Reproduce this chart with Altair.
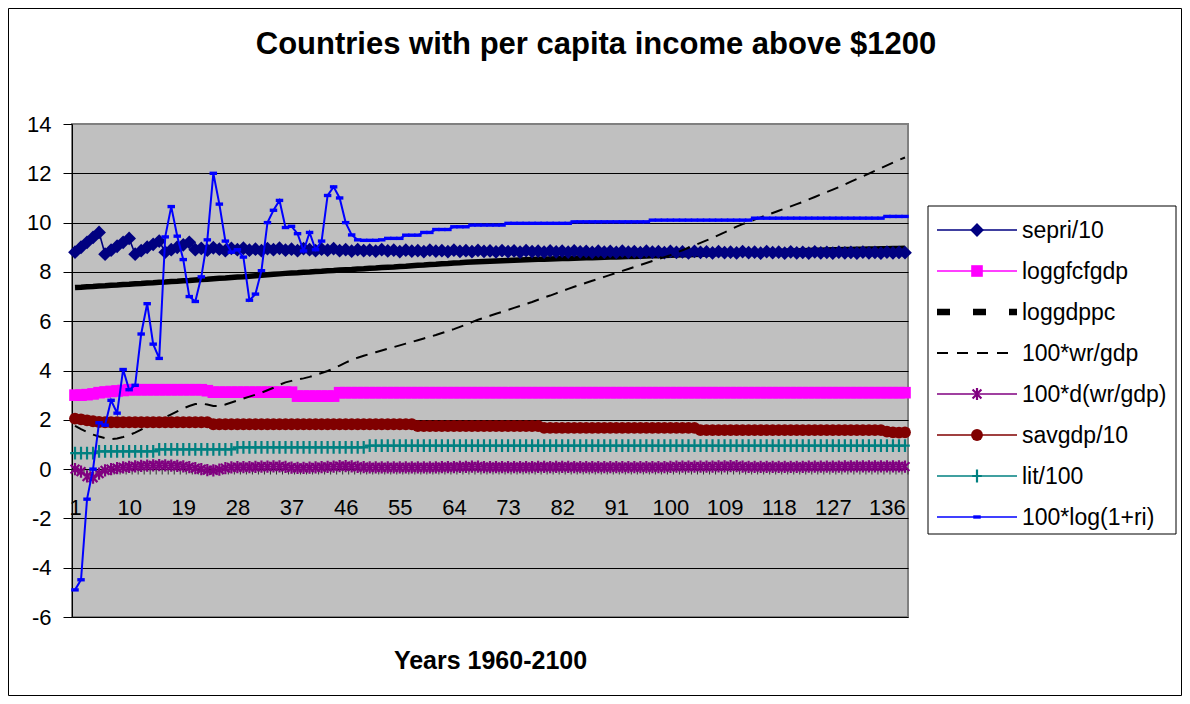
import altair as alt
import pandas as pd

FONT = "Liberation Sans"

# ---------------- data ----------------
series_names = ["sepri/10", "loggfcfgdp", "loggdppc", "100*wr/gdp",
                "100*d(wr/gdp)", "savgdp/10", "lit/100", "100*log(1+ri)"]
years = list(range(1, 140))
x_tick_labels = [1, 10, 19, 28, 37, 46, 55, 64, 73, 82, 91, 100, 109, 118, 127, 136]
y_ticks = [-6, -4, -2, 0, 2, 4, 6, 8, 10, 12, 14]

sepri = [
    8.80, 9.00, 9.20, 9.40, 9.60, 8.72, 8.88, 9.04, 9.20, 9.36,
    8.72, 8.86, 9.00, 9.12, 9.25, 8.80, 8.90, 9.00, 9.10, 9.20,
    8.90, 8.95, 8.88, 8.98, 8.92, 8.86, 8.95, 8.90, 8.96, 8.88,
    8.92, 8.86, 8.94, 8.90, 8.96, 8.88, 8.92, 8.86, 8.94, 8.90,
    8.86, 8.92, 8.88, 8.94, 8.86, 8.90, 8.84, 8.90, 8.86, 8.88,
    8.84, 8.90, 8.85, 8.88, 8.82, 8.88, 8.84, 8.86, 8.82, 8.88,
    8.84, 8.86, 8.82, 8.88, 8.83, 8.86, 8.82, 8.87, 8.83, 8.85,
    8.81, 8.86, 8.82, 8.85, 8.80, 8.86, 8.82, 8.84, 8.80, 8.85,
    8.81, 8.84, 8.80, 8.85, 8.81, 8.83, 8.79, 8.84, 8.80, 8.83,
    8.79, 8.84, 8.80, 8.82, 8.78, 8.84, 8.80, 8.82, 8.78, 8.83,
    8.79, 8.81, 8.77, 8.83, 8.79, 8.81, 8.77, 8.82, 8.78, 8.80,
    8.77, 8.82, 8.78, 8.80, 8.76, 8.82, 8.78, 8.80, 8.76, 8.81,
    8.77, 8.79, 8.76, 8.81, 8.77, 8.79, 8.76, 8.80, 8.77, 8.79,
    8.76, 8.80, 8.77, 8.79, 8.76, 8.80, 8.77, 8.79, 8.78,
]

loggfcfgdp = [
    3.00, 3.00, 3.02, 3.05, 3.10, 3.13, 3.15, 3.17, 3.19, 3.22,
    3.22, 3.22, 3.22, 3.22, 3.22, 3.22, 3.22, 3.22, 3.22, 3.22,
    3.22, 3.22, 3.18, 3.12, 3.12, 3.12, 3.12, 3.12, 3.12, 3.12,
    3.12, 3.12, 3.12, 3.12, 3.12, 3.12, 3.12, 2.96, 2.96, 2.96,
    2.96, 2.96, 2.96, 2.96, 3.10, 3.10, 3.10, 3.10, 3.10, 3.10,
    3.10, 3.10, 3.10, 3.10, 3.10, 3.10, 3.10, 3.10, 3.10, 3.10,
    3.10, 3.10, 3.10, 3.10, 3.10, 3.10, 3.10, 3.10, 3.10, 3.10,
    3.10, 3.10, 3.10, 3.10, 3.10, 3.10, 3.10, 3.10, 3.10, 3.10,
    3.10, 3.10, 3.10, 3.10, 3.10, 3.10, 3.10, 3.10, 3.10, 3.10,
    3.10, 3.10, 3.10, 3.10, 3.10, 3.10, 3.10, 3.10, 3.10, 3.10,
    3.10, 3.10, 3.10, 3.10, 3.10, 3.10, 3.10, 3.10, 3.10, 3.10,
    3.10, 3.10, 3.10, 3.10, 3.10, 3.10, 3.10, 3.10, 3.10, 3.10,
    3.10, 3.10, 3.10, 3.10, 3.10, 3.10, 3.10, 3.10, 3.10, 3.10,
    3.10, 3.10, 3.10, 3.10, 3.10, 3.10, 3.10, 3.10, 3.10,
]

loggdppc = [
    7.37, 7.38, 7.40, 7.41, 7.43, 7.44, 7.46, 7.47, 7.49, 7.50,
    7.52, 7.53, 7.55, 7.56, 7.58, 7.59, 7.61, 7.62, 7.64, 7.65,
    7.67, 7.69, 7.70, 7.72, 7.74, 7.75, 7.77, 7.79, 7.80, 7.82,
    7.84, 7.86, 7.88, 7.90, 7.92, 7.94, 7.96, 7.97, 7.99, 8.00,
    8.02, 8.03, 8.05, 8.06, 8.08, 8.09, 8.10, 8.12, 8.13, 8.15,
    8.16, 8.18, 8.19, 8.20, 8.22, 8.23, 8.25, 8.27, 8.28, 8.30,
    8.31, 8.33, 8.34, 8.36, 8.37, 8.39, 8.40, 8.41, 8.42, 8.43,
    8.44, 8.45, 8.46, 8.47, 8.48, 8.49, 8.50, 8.51, 8.51, 8.52,
    8.53, 8.54, 8.54, 8.55, 8.56, 8.57, 8.57, 8.58, 8.59, 8.60,
    8.60, 8.61, 8.62, 8.62, 8.63, 8.64, 8.65, 8.66, 8.67, 8.68,
    8.69, 8.70, 8.70, 8.71, 8.72, 8.73, 8.74, 8.75, 8.76, 8.77,
    8.77, 8.78, 8.79, 8.80, 8.80, 8.81, 8.82, 8.83, 8.84, 8.85,
    8.85, 8.86, 8.87, 8.88, 8.88, 8.89, 8.90, 8.90, 8.91, 8.91,
    8.92, 8.92, 8.93, 8.93, 8.94, 8.94, 8.95, 8.95, 8.96,
]

wr_gdp = [
    1.75, 1.62, 1.50, 1.40, 1.32, 1.26, 1.22, 1.24, 1.30, 1.38,
    1.48, 1.60, 1.74, 1.86, 1.98, 2.10, 2.22, 2.34, 2.46, 2.56,
    2.64, 2.66, 2.62, 2.56, 2.56, 2.62, 2.70, 2.78, 2.86, 2.94,
    3.02, 3.10, 3.20, 3.30, 3.42, 3.52, 3.58, 3.63, 3.68, 3.74,
    3.82, 3.90, 3.98, 4.08, 4.20, 4.32, 4.43, 4.52, 4.60, 4.67,
    4.74, 4.81, 4.88, 4.95, 5.02, 5.09, 5.16, 5.23, 5.30, 5.37,
    5.44, 5.52, 5.60, 5.68, 5.77, 5.86, 5.96, 6.06, 6.14, 6.22,
    6.30, 6.38, 6.46, 6.54, 6.62, 6.70, 6.78, 6.87, 6.96, 7.04,
    7.13, 7.22, 7.31, 7.40, 7.48, 7.56, 7.64, 7.72, 7.80, 7.88,
    7.96, 8.04, 8.12, 8.20, 8.28, 8.36, 8.44, 8.52, 8.60, 8.68,
    8.78, 8.88, 8.98, 9.08, 9.18, 9.28, 9.38, 9.49, 9.60, 9.72,
    9.84, 9.94, 10.03, 10.12, 10.21, 10.30, 10.39, 10.48, 10.57, 10.66,
    10.75, 10.84, 10.94, 11.04, 11.14, 11.24, 11.34, 11.44, 11.55, 11.66,
    11.77, 11.88, 11.99, 12.10, 12.21, 12.32, 12.43, 12.54, 12.64,
]

d_wr_gdp = [
    0.00, -0.10, -0.30, -0.35, -0.18, -0.05, 0.00, 0.04, 0.07, 0.09,
    0.11, 0.13, 0.14, 0.15, 0.16, 0.15, 0.14, 0.13, 0.11, 0.08,
    0.04, 0.00, -0.04, -0.05, -0.02, 0.04, 0.07, 0.08, 0.08, 0.08,
    0.09, 0.10, 0.10, 0.11, 0.11, 0.09, 0.06, 0.05, 0.05, 0.06,
    0.07, 0.08, 0.09, 0.10, 0.12, 0.12, 0.11, 0.09, 0.08, 0.07,
    0.07, 0.07, 0.07, 0.07, 0.07, 0.07, 0.07, 0.07, 0.07, 0.07,
    0.07, 0.08, 0.08, 0.08, 0.09, 0.09, 0.10, 0.10, 0.08, 0.08,
    0.08, 0.08, 0.08, 0.08, 0.08, 0.08, 0.08, 0.09, 0.09, 0.08,
    0.09, 0.09, 0.09, 0.08, 0.08, 0.08, 0.08, 0.08, 0.08, 0.08,
    0.08, 0.08, 0.08, 0.08, 0.08, 0.08, 0.08, 0.08, 0.08, 0.09,
    0.10, 0.10, 0.10, 0.10, 0.10, 0.10, 0.10, 0.11, 0.11, 0.12,
    0.12, 0.10, 0.09, 0.09, 0.09, 0.09, 0.09, 0.09, 0.09, 0.09,
    0.09, 0.09, 0.10, 0.10, 0.10, 0.10, 0.10, 0.10, 0.11, 0.11,
    0.11, 0.11, 0.11, 0.11, 0.11, 0.11, 0.11, 0.11, 0.10,
]

savgdp = [
    2.05, 2.02, 1.98, 1.94, 1.91, 1.90, 1.90, 1.90, 1.90, 1.90,
    1.90, 1.90, 1.90, 1.90, 1.90, 1.90, 1.90, 1.90, 1.90, 1.90,
    1.90, 1.90, 1.90, 1.82, 1.82, 1.82, 1.82, 1.82, 1.82, 1.82,
    1.82, 1.82, 1.82, 1.82, 1.82, 1.82, 1.82, 1.82, 1.82, 1.82,
    1.82, 1.82, 1.82, 1.82, 1.82, 1.82, 1.82, 1.82, 1.82, 1.82,
    1.82, 1.82, 1.82, 1.82, 1.82, 1.82, 1.82, 1.75, 1.75, 1.75,
    1.75, 1.75, 1.75, 1.75, 1.75, 1.75, 1.75, 1.75, 1.75, 1.75,
    1.75, 1.75, 1.75, 1.75, 1.75, 1.75, 1.75, 1.75, 1.67, 1.67,
    1.67, 1.67, 1.67, 1.67, 1.67, 1.67, 1.67, 1.67, 1.67, 1.67,
    1.67, 1.67, 1.67, 1.67, 1.67, 1.67, 1.67, 1.67, 1.67, 1.67,
    1.67, 1.67, 1.67, 1.67, 1.58, 1.58, 1.58, 1.58, 1.58, 1.58,
    1.58, 1.58, 1.58, 1.58, 1.58, 1.58, 1.58, 1.58, 1.58, 1.58,
    1.58, 1.58, 1.58, 1.58, 1.58, 1.58, 1.58, 1.58, 1.58, 1.58,
    1.58, 1.58, 1.58, 1.58, 1.58, 1.52, 1.49, 1.48, 1.49,
]

lit = [
    0.65, 0.65, 0.65, 0.65, 0.72, 0.72, 0.72, 0.72, 0.72, 0.72,
    0.72, 0.72, 0.72, 0.72, 0.80, 0.80, 0.80, 0.80, 0.80, 0.80,
    0.80, 0.80, 0.80, 0.80, 0.80, 0.80, 0.80, 0.88, 0.88, 0.88,
    0.88, 0.88, 0.88, 0.88, 0.88, 0.88, 0.88, 0.88, 0.88, 0.88,
    0.88, 0.88, 0.88, 0.88, 0.88, 0.88, 0.88, 0.88, 0.88, 0.95,
    0.95, 0.95, 0.95, 0.95, 0.95, 0.95, 0.95, 0.95, 0.95, 0.95,
    0.95, 0.95, 0.95, 0.95, 0.95, 0.95, 0.95, 0.95, 0.95, 0.95,
    0.95, 0.95, 0.95, 0.95, 0.95, 0.95, 0.95, 0.95, 0.95, 0.95,
    0.95, 0.95, 0.95, 0.95, 0.95, 0.95, 0.95, 0.95, 0.95, 0.95,
    0.95, 0.95, 0.95, 0.95, 0.95, 0.95, 0.95, 0.95, 0.95, 0.95,
    0.95, 0.95, 0.95, 0.95, 0.95, 0.95, 0.95, 0.95, 0.95, 0.95,
    0.95, 0.95, 0.95, 0.95, 0.95, 0.95, 0.95, 0.95, 0.95, 0.95,
    0.95, 0.95, 0.95, 0.95, 0.95, 0.95, 0.95, 0.95, 0.95, 0.95,
    0.95, 0.95, 0.95, 0.95, 0.95, 0.95, 0.95, 0.95, 0.95,
]

log_ri = [
    -4.90, -4.49, -1.22, 0.00, 1.88, 1.78, 2.79, 2.27, 4.04, 3.22,
    3.40, 5.48, 6.71, 5.07, 4.49, 9.42, 10.65, 9.45, 8.50, 7.00,
    6.80, 7.80, 9.30, 12.00, 10.75, 9.25, 8.80, 8.90, 8.60, 6.85,
    7.10, 8.05, 10.00, 10.50, 10.90, 9.80, 9.85, 9.55, 8.85, 9.60,
    8.90, 9.25, 11.10, 11.45, 11.00, 10.00, 9.50, 9.30, 9.28, 9.28,
    9.28, 9.30, 9.36, 9.36, 9.36, 9.49, 9.49, 9.49, 9.60, 9.60,
    9.72, 9.72, 9.72, 9.83, 9.83, 9.83, 9.90, 9.90, 9.90, 9.90,
    9.90, 9.90, 9.97, 9.97, 9.97, 9.97, 9.97, 9.97, 9.97, 9.97,
    9.97, 9.97, 9.97, 10.03, 10.03, 10.03, 10.03, 10.03, 10.03, 10.03,
    10.03, 10.03, 10.03, 10.03, 10.03, 10.03, 10.10, 10.10, 10.10, 10.10,
    10.10, 10.10, 10.10, 10.10, 10.10, 10.10, 10.10, 10.10, 10.10, 10.10,
    10.10, 10.10, 10.10, 10.18, 10.18, 10.18, 10.18, 10.18, 10.18, 10.18,
    10.18, 10.18, 10.18, 10.18, 10.18, 10.18, 10.18, 10.18, 10.18, 10.18,
    10.18, 10.18, 10.18, 10.18, 10.18, 10.25, 10.25, 10.25, 10.25,
]

series_values = [sepri, loggfcfgdp, loggdppc, wr_gdp, d_wr_gdp, savgdp, lit, log_ri]
chart_title = "Countries with per capita income above $1200"
x_title = "Years 1960-2100"

rows = []
for name, vals in zip(series_names, series_values):
    for i, v in zip(years, vals):
        rows.append({"i": i, "series": name, "value": v})
df = pd.DataFrame(rows)

# ---------------- styles ----------------
ASTER = "M0,-1V1M-0.72,-0.72L0.72,0.72M-0.72,0.72L0.72,-0.72"
PLUS = "M0,-1V1M-0.75,0H0.75"
DASH = "M-1,-0.45H1V0.45H-1Z"
styles = {
    "sepri/10":      dict(color="#000080", width=1.6, dash=None, ldash=None, shape="diamond", size=190, filled=True, mw=1),
    "loggfcfgdp":    dict(color="#FF00FF", width=1.6, dash=None, ldash=None, shape="square", size=135, filled=True, mw=1),
    "loggdppc":      dict(color="#000000", width=5.5, dash=None, ldash=[13, 23], shape=None, size=0, filled=True, mw=1),
    "100*wr/gdp":    dict(color="#000000", width=2, dash=[12, 8], ldash=[11, 9], shape=None, size=0, filled=True, mw=1),
    "100*d(wr/gdp)": dict(color="#800080", width=1.6, dash=None, ldash=None, shape=ASTER, size=150, filled=False, mw=2.2),
    "savgdp/10":     dict(color="#800000", width=1.6, dash=None, ldash=None, shape="circle", size=140, filled=True, mw=1),
    "lit/100":       dict(color="#008080", width=1.6, dash=None, ldash=None, shape=PLUS, size=165, filled=False, mw=2.2),
    "100*log(1+ri)": dict(color="#0000FF", width=2, dash=None, ldash=None, shape=DASH, size=56, filled=True, mw=1),
}

W, H = 836, 493
xscale = alt.Scale(domain=[0.5, 139.5], nice=False, zero=False)
yscale = alt.Scale(domain=[-6, 14], nice=False, zero=False)

x_axis = alt.Axis(values=x_tick_labels, title=x_title, offset=-H * 6 / 20,
                  ticks=False, grid=False, domainColor="#000000", domainWidth=1,
                  labelFont=FONT, labelFontSize=22, labelColor="#000000",
                  labelBaseline="alphabetic", labelPadding=45, labelFlush=False,
                  labelOverlap=False, titleFont=FONT, titleFontSize=25,
                  titleFontWeight="bold", titleColor="#000000", titleY=199,
                  titleBaseline="alphabetic")
y_axis = alt.Axis(values=y_ticks, title=None, grid=True,
                  gridColor={"condition": {"test": "datum.value === 14", "value": "#808080"},
                             "value": "#000000"},
                  gridWidth=1, domainColor="#000000", domainWidth=1,
                  tickColor="#000000", tickSize=9, labelPadding=12,
                  labelFont=FONT, labelFontSize=22, labelColor="#000000",
                  labelExpr="datum.value + ''")

X = alt.X("i:Q", scale=xscale, axis=x_axis)
Y = alt.Y("value:Q", scale=yscale, axis=y_axis)


def base(name):
    return alt.Chart(df).transform_filter(alt.datum.series == name)


layers = []

draw_order = ["loggdppc", "sepri/10", "loggfcfgdp", "100*wr/gdp", "100*d(wr/gdp)",
              "savgdp/10", "lit/100", "100*log(1+ri)"]
for name in draw_order:
    st = styles[name]
    lkw = dict(color=st["color"], strokeWidth=st["width"])
    if st["dash"]:
        lkw["strokeDash"] = st["dash"]
    layers.append(base(name).mark_line(**lkw).encode(x=X, y=Y))
    if st["shape"]:
        layers.append(base(name).mark_point(shape=st["shape"], size=st["size"], filled=st["filled"],
                                            color=st["color"], opacity=1,
                                            strokeWidth=st["mw"]).encode(x=X, y=Y))
    if name == "loggdppc":
        # category tick marks on the category axis (which crosses at y = 0)
        tick_df = pd.DataFrame({"i": [k + 0.5 for k in range(len(years) + 1)]})
        layers.append(
            alt.Chart(tick_df).mark_rule(color="#303030", strokeWidth=1).encode(
                x=X,
                y=alt.YDatum(0, scale=yscale, axis=y_axis),
                y2=alt.Y2Datum(-0.22),
            )
        )

# ---------------- legend ----------------
legend_df = pd.DataFrame({"series": series_names})
one = pd.DataFrame({"t": [chart_title]})
layers.append(alt.Chart(one).mark_rect(fill="#FFFFFF", stroke="#000000", strokeWidth=1).encode(
    x=alt.value(856), x2=alt.value(1104), y=alt.value(82), y2=alt.value(410)))
for k, name in enumerate(series_names):
    st = styles[name]
    ry = 106 + 41 * k
    lb = alt.Chart(legend_df).transform_filter(alt.datum.series == name)
    if name == "100*wr/gdp":
        lw = 2
    elif name == "loggdppc":
        lw = 6.5
    else:
        lw = 1.4
    rkw = dict(color=st["color"], strokeWidth=lw)
    if st["ldash"]:
        rkw["strokeDash"] = st["ldash"]
    layers.append(lb.mark_rule(**rkw).encode(x=alt.value(865), x2=alt.value(945), y=alt.value(ry)))
    if st["shape"]:
        layers.append(lb.mark_point(shape=st["shape"], size=st["size"], filled=st["filled"],
                                    color=st["color"], opacity=1, strokeWidth=st["mw"]).encode(
            x=alt.value(905), y=alt.value(ry)))
    layers.append(lb.mark_text(font=FONT, fontSize=23, align="left", baseline="middle",
                               color="#000000").encode(
        text="series:N", x=alt.value(950), y=alt.value(ry + 1)))

# ---------------- title & frame ----------------
layers.append(alt.Chart(one).mark_text(font=FONT, fontSize=31, fontWeight="bold", align="center",
                                       baseline="alphabetic", color="#000000").encode(
    text="t:N", x=alt.value(524), y=alt.value(-70)))
layers.append(alt.Chart(one).mark_rect(fillOpacity=0, stroke="#000000", strokeWidth=1).encode(
    x=alt.value(-63.5), x2=alt.value(1109.5), y=alt.value(-115.5), y2=alt.value(571.5)))

chart = alt.layer(*layers).properties(
    width=W, height=H,
    autosize=alt.AutoSizeParams(type="none"),
    padding={"left": 64, "top": 116, "right": 274, "bottom": 79},
    background="#FFFFFF",
).configure_view(fill="#C0C0C0", stroke="#808080", strokeWidth=2)

chart.save("out.html", embed_options={"renderer": "svg", "actions": False})
